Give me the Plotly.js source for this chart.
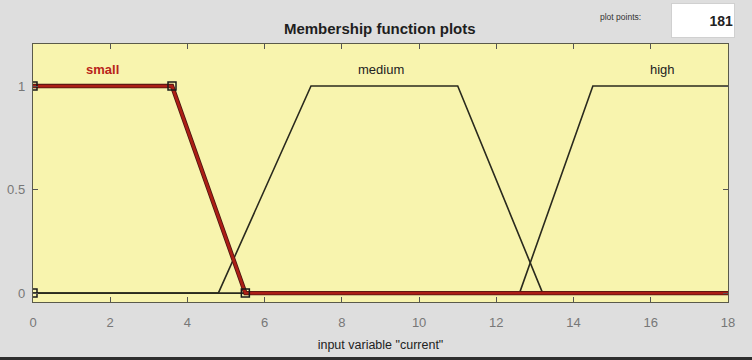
<!DOCTYPE html>
<html>
<head>
<meta charset="utf-8">
<script src="https://cdn.plot.ly/plotly-3.0.1.min.js"></script>
<style>
  html, body { margin: 0; padding: 0; background: #2e2e2e; }
  #wrap { width: 752px; height: 360px; overflow: hidden; background: #2e2e2e; }
  #chart { width: 752px; height: 357px; }
</style>
</head>
<body>
<div id="wrap"><div id="chart"></div></div>
<script>
// Membership functions of the input variable "current" (trapezoid vertices)
const smallX  = [0, 3.6, 5.5, 18];
const smallY  = [1, 1, 0, 0];
const mediumX = [0, 4.8, 7.2, 11, 13.2, 18];
const mediumY = [0, 0, 1, 1, 0, 0];
const highX   = [0, 12.6, 14.5, 18];
const highY   = [0, 0, 1, 1];

// Editable vertices of the selected function ("small")
const handleX = [0, 0, 3.6, 5.5];
const handleY = [0, 1, 1, 0];

// Function names and where they are labelled
const mfNames  = ['small', 'medium', 'high'];
const labelX   = [1.8, 9, 16.3];
const labelY   = [1.08, 1.08, 1.08];
const labelCol = ['#b8231a', '#222222', '#222222'];

const xTicks = [0, 2, 4, 6, 8, 10, 12, 14, 16, 18];
const yTicks = [0, 0.5, 1];
const plotPoints = '181';

const dark = '#2a2a1e';
const font = 'Liberation Sans, Arial, sans-serif';

const traces = [
  { x: mediumX, y: mediumY, mode: 'lines', line: { color: dark, width: 1.6 }, hoverinfo: 'skip' },
  { x: highX, y: highY, mode: 'lines', line: { color: dark, width: 1.6 }, hoverinfo: 'skip' },
  // selected function: dark outline under a red core
  { x: smallX, y: smallY, mode: 'lines', line: { color: '#4a1510', width: 4.4 }, hoverinfo: 'skip' },
  { x: smallX, y: smallY, mode: 'lines', line: { color: '#ac1e15', width: 2.8 }, hoverinfo: 'skip' },
  { x: handleX, y: handleY, mode: 'markers', cliponaxis: true,
    marker: { symbol: 'square-open', size: 8, color: '#1a1a1a', line: { width: 1.5 } },
    hoverinfo: 'skip' }
];

const annotations = mfNames.map((n, i) => ({
  x: labelX[i], y: labelY[i], xref: 'x', yref: 'y', text: n, showarrow: false,
  font: { family: font, size: 13, color: labelCol[i], weight: i === 0 ? 'bold' : 'normal' }
}));

annotations.push({
  xref: 'paper', yref: 'paper', x: 0.845, y: 1.105, xanchor: 'center', yanchor: 'middle',
  text: 'plot points:', showarrow: false,
  font: { family: font, size: 8.5, color: '#333' }
});
annotations.push({
  xref: 'paper', yref: 'paper', x: 0.964, y: 1.092, xanchor: 'center', yanchor: 'middle',
  text: '<b>' + plotPoints + '</b>',
  showarrow: false, width: 60, height: 31, align: 'right', valign: 'middle',
  bgcolor: '#ffffff', bordercolor: '#d0d0d0', borderwidth: 1, borderpad: 1,
  font: { family: font, size: 14, color: '#222' }
});

const layout = {
  width: 752, height: 357,
  margin: { l: 33, r: 24, t: 44, b: 55 },
  paper_bgcolor: '#dedede',
  plot_bgcolor: '#f8f4ae',
  showlegend: false,
  title: {
    text: '<b>Membership function plots</b>',
    font: { family: font, size: 15, color: '#1e1e1e' },
    x: 0.505, xanchor: 'center', y: 0.92, yanchor: 'middle'
  },
  xaxis: {
    range: [0, 18], tickvals: xTicks, ticktext: xTicks.map(String),
    ticks: 'inside', ticklen: 5, tickcolor: '#555', tickwidth: 1,
    showline: true, linecolor: '#5a5a4a', linewidth: 1.2, mirror: 'ticks',
    showgrid: false, zeroline: false, ticklabelstandoff: 8,
    tickfont: { family: font, size: 13, color: '#777' },
    title: { text: 'input variable "current"', standoff: 11,
             font: { family: font, size: 12.5, color: '#222' } }
  },
  yaxis: {
    range: [-0.043, 1.203], tickvals: yTicks, ticktext: ['0', '0.5', '1'],
    ticks: 'inside', ticklen: 5, tickcolor: '#555', tickwidth: 1,
    showline: true, linecolor: '#5a5a4a', linewidth: 1.2, mirror: 'ticks',
    showgrid: false, zeroline: false, ticklabelstandoff: 4,
    tickfont: { family: font, size: 13, color: '#777' }
  },
  annotations: annotations
};

Plotly.newPlot('chart', traces, layout, { displayModeBar: false, staticPlot: true });
</script>
</body>
</html>
